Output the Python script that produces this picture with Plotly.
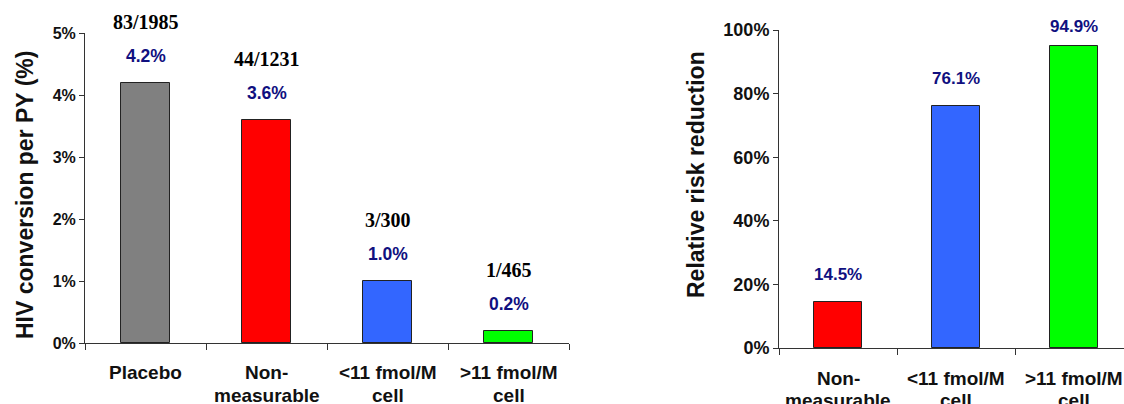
import plotly.graph_objects as go

# HIV conversion per person-year by treatment group
conversion_groups = [["Placebo"], ["Non-", "measurable"], ["<11 fmol/M", "cell"], [">11 fmol/M", "cell"]]
conversion_rate = [4.2, 3.6, 1.0, 0.2]
conversion_events = ["83/1985", "44/1231", "3/300", "1/465"]
conversion_colors = ["#808080", "#FF0000", "#3366FF", "#00FF00"]

# Relative risk reduction versus placebo
rrr_groups = [["Non-", "measurable"], ["<11 fmol/M", "cell"], [">11 fmol/M", "cell"]]
rrr_value = [14.5, 76.1, 94.9]
rrr_colors = ["#FF0000", "#3366FF", "#00FF00"]

W, H = 1124, 404
SANS = "Liberation Sans, Arial, sans-serif"
SERIF = "Liberation Serif, Times New Roman, serif"
NAVY = "#10107F"
AXIS = "#333333"


def py(px):
    return 1 - px / H


def bold(s):
    return f"<b>{s}</b>"


fig = go.Figure()

fig.add_trace(go.Bar(
    x=list(range(len(conversion_rate))), y=conversion_rate,
    marker=dict(color=conversion_colors, line=dict(color="#222222", width=1)),
    width=0.4, xaxis="x", yaxis="y", showlegend=False, hoverinfo="skip",
))
fig.add_trace(go.Bar(
    x=list(range(len(rrr_value))), y=rrr_value,
    marker=dict(color=rrr_colors, line=dict(color="#222222", width=1)),
    width=0.41, xaxis="x2", yaxis="y2", showlegend=False, hoverinfo="skip",
))

common_x = dict(
    showgrid=False, zeroline=False, showline=True, linecolor=AXIS, linewidth=1,
    ticks="outside", ticklen=6, tickcolor=AXIS, showticklabels=False,
    tickmode="array", automargin=False,
)
common_y = dict(
    showgrid=False, zeroline=False, showline=True, linecolor=AXIS, linewidth=1,
    ticks="outside", ticklen=5, tickcolor=AXIS, automargin=False, tickmode="array",
)


def pct_ticks(top, step):
    vals = list(range(0, top + 1, step))
    return vals, [bold(f"{v}%") for v in vals]


n1 = len(conversion_rate)
n2 = len(rrr_value)
tv1, tt1 = pct_ticks(5, 1)
tv2, tt2 = pct_ticks(100, 20)
fig.update_layout(
    template="none",
    width=W, height=H,
    margin=dict(l=0, r=0, t=0, b=0, pad=0),
    paper_bgcolor="white", plot_bgcolor="white",
    bargap=0,
    xaxis=dict(domain=[85 / W, 569 / W], range=[-0.5, n1 - 0.5],
               tickvals=[i - 0.5 for i in range(n1 + 1)], anchor="y", **common_x),
    yaxis=dict(domain=[py(343), py(33)], range=[0, 5], anchor="x",
               tickvals=tv1, ticktext=tt1,
               tickfont=dict(family=SANS, size=16, color="#111111"), **common_y),
    xaxis2=dict(domain=[779 / W, 1], range=[-0.5, n2 - 0.5 - 9 / 118],
                tickvals=[i - 0.5 for i in range(n2 + 1)], anchor="y2", **common_x),
    yaxis2=dict(domain=[py(348), py(30)], range=[0, 100], anchor="x2",
                tickvals=tv2, ticktext=tt2,
                tickfont=dict(family=SANS, size=18, color="#111111"), **common_y),
)

ann = []

# Value labels on the left panel
for i, (v, ev) in enumerate(zip(conversion_rate, conversion_events)):
    ann.append(dict(x=i, y=v, xref="x", yref="y", text=bold(f"{v:.1f}%"), showarrow=False,
                    yanchor="middle", yshift=27,
                    font=dict(family=SANS, size=17.5, color=NAVY)))
    ann.append(dict(x=i, y=v, xref="x", yref="y", text=bold(ev), showarrow=False,
                    yanchor="middle", yshift=61,
                    font=dict(family=SERIF, size=20, color="#000000")))

# Value labels on the right panel
rrr_shift = [27, 27, 20]
for i, v in enumerate(rrr_value):
    ann.append(dict(x=i, y=v, xref="x2", yref="y2", text=bold(f"{v:.1f}%"), showarrow=False,
                    yanchor="middle", yshift=rrr_shift[i],
                    font=dict(family=SANS, size=17, color=NAVY)))

# Category labels
cat_font = dict(family=SANS, size=19, color="#111111")
for i, lines in enumerate(conversion_groups):
    for j, line in enumerate(lines):
        ann.append(dict(x=i, y=py(372 + 23 * j), xref="x", yref="paper", text=bold(line),
                        showarrow=False, yanchor="middle", font=cat_font))
for i, lines in enumerate(rrr_groups):
    for j, line in enumerate(lines):
        ann.append(dict(x=i, y=py(378 + 22 * j), xref="x2", yref="paper", text=bold(line),
                        showarrow=False, yanchor="middle", font=cat_font))

# Axis titles
title_font = dict(family=SANS, size=23, color="#111111")
ann.append(dict(x=25 / W, y=py(195), xref="paper", yref="paper", text=bold("HIV conversion per PY (%)"),
                textangle=-90, showarrow=False, xanchor="center", yanchor="middle", font=title_font))
ann.append(dict(x=696 / W, y=py(175), xref="paper", yref="paper", text=bold("Relative risk reduction"),
                textangle=-90, showarrow=False, xanchor="center", yanchor="middle", font=title_font))

fig.update_layout(annotations=ann)

fig.write_html("out.html")
